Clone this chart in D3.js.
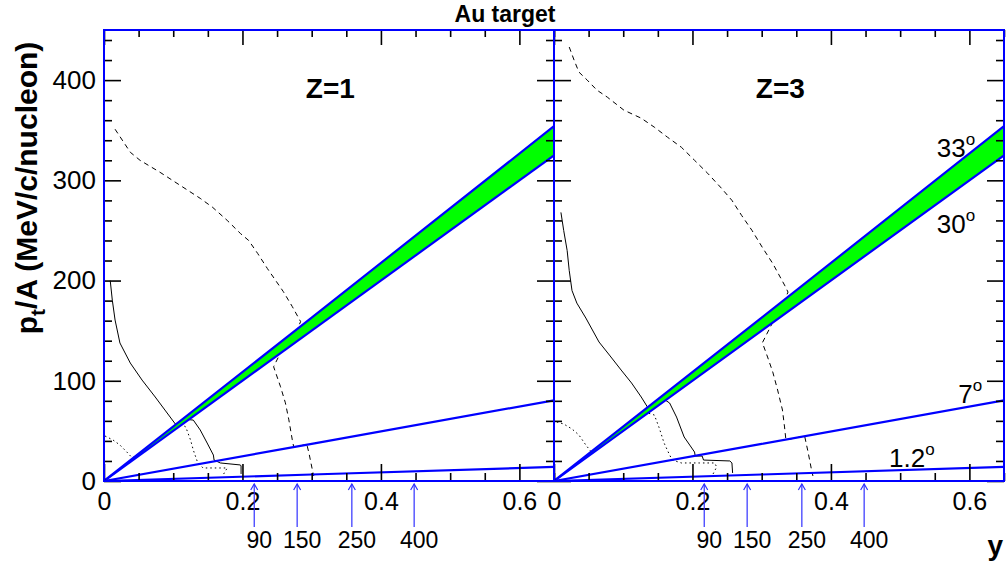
<!DOCTYPE html>
<html><head><meta charset="utf-8">
<script src="https://cdn.jsdelivr.net/npm/d3@7"></script>
<style>
body{margin:0;background:#fff;}
svg{display:block;}
text{font-family:"Liberation Sans",Arial,Helvetica,sans-serif;fill:#000;}
</style>
</head><body>
<svg id="chart" width="1008" height="563"></svg>
<script>
// ---------------- data ----------------
const panelLabels = ["Z=1", "Z=3"];
const xMajorTicks = [0, 0.2, 0.4, 0.6];
const xMinorTicks = [0.05, 0.1, 0.15, 0.25, 0.3, 0.35, 0.45, 0.5, 0.55, 0.65];
const yMajorTicks = [0, 100, 200, 300, 400];
const yMinorTicks = [20, 40, 60, 80, 120, 140, 160, 180, 220, 240, 260, 280, 320, 340, 360, 380, 420, 440];

// angle lines (rapidity y, pt/A)
const angleNames = ["33", "30", "7", "1.2"];
const line33 = [[0, 0], [0.3, 163], [0.65, 354]];
const line30 = [[0, 0], [0.3, 150], [0.65, 325]];
const line7  = [[0, 0], [0.3, 37], [0.65, 80.5]];
const line12 = [[0, 0], [0.3, 6.5], [0.65, 14]];

// beam energy arrows (MeV/nucleon) at rapidity
const arrowRapidity = [0.217, 0.279, 0.358, 0.448];
const arrowEnergy = ["90", "150", "250", "400"];

// Z=1 curves
const solidZ1 = [[0.009,200],[0.012,180.5],[0.016,160.6],[0.023,137.7],[0.038,117.7],[0.055,100.7],[0.074,83.8],[0.088,70.8],[0.103,56.9],[0.118,61.5],[0.129,60.8],[0.139,50.9],[0.149,37.9],[0.158,25.9],[0.159,20.9],[0.168,18],[0.197,16],[0.198,15],[0.198,7]];
const dottedZ1 = [[0.0015,44.9],[0.013,40.9],[0.023,35.9],[0.033,28.9],[0.041,22.9],[0.08,42],[0.11,57],[0.118,54],[0.125,40.9],[0.129,30.9],[0.135,19],[0.143,13],[0.178,13],[0.172,6]];
const dashedZ1 = [[0.016,351],[0.038,328],[0.052,320],[0.081,308],[0.110,295],[0.139,282],[0.157,273],[0.178,260],[0.197,247],[0.209,240],[0.222,227],[0.236,212],[0.248,200],[0.259,189],[0.272,174],[0.284,159],[0.275,145],[0.255,128],[0.245,114],[0.255,94],[0.262,78],[0.267,61],[0.272,41],[0.274,34],[0.293,36.4],[0.296,28],[0.301,11],[0.303,5]];

// Z=3 curves
const solidZ3 = [[0.010,268],[0.014,250],[0.019,230],[0.022,210],[0.026,190],[0.033,177.5],[0.046,162.6],[0.065,138.7],[0.080,125.7],[0.097,110.7],[0.112,97.8],[0.126,83.8],[0.135,73.8],[0.158,82],[0.167,77.8],[0.177,63.8],[0.188,43.9],[0.196,35.9],[0.203,28.9],[0.204,24.9],[0.214,24.9],[0.216,20.9],[0.254,20],[0.257,18],[0.258,8]];
const dottedZ3 = [[0.004,58.9],[0.014,56.9],[0.026,51.9],[0.036,45.9],[0.046,35.9],[0.054,28.9],[0.1,52],[0.135,68],[0.145,65.8],[0.152,52.9],[0.159,37.9],[0.167,25.9],[0.171,20.9],[0.184,18],[0.210,18],[0.232,18],[0.235,14],[0.229,6]];
const dashedZ3 = [[0.022,433],[0.029,420],[0.036,408],[0.048,400],[0.062,390],[0.077,383],[0.101,370],[0.126,362],[0.145,353],[0.164,343],[0.184,333],[0.203,320],[0.222,307],[0.242,292],[0.257,280],[0.271,265],[0.286,250],[0.301,233],[0.316,217],[0.333,195.5],[0.338,188.5],[0.33,175],[0.315,157],[0.301,138],[0.309,122.7],[0.316,108.7],[0.323,90.8],[0.330,70.8],[0.333,53.9],[0.335,40.9],[0.362,44.9],[0.367,28.9],[0.372,11],[0.374,5]];

const curvesByPanel = [
  {solid: solidZ1, dotted: dottedZ1, dashed: dashedZ1},
  {solid: solidZ3, dotted: dottedZ3, dashed: dashedZ3}
];

// ---------------- drawing ----------------
const svg = d3.select("#chart");
const BLUE = "#0000ff", GREEN = "#00ff00";
const plotTop = 30, plotBottom = 481;
const panelX = [[104, 554], [554, 1004]];
const yScale = d3.scaleLinear().domain([0, 450]).range([plotBottom, plotTop]);

svg.append("rect").attr("width", 1008).attr("height", 563).attr("fill", "#fff");
const defs = svg.append("defs");

panelX.forEach((px, i) => {
  const x = d3.scaleLinear().domain([0, 0.65]).range(px);
  const g = svg.append("g");
  const clipId = "clip" + i;
  defs.append("clipPath").attr("id", clipId)
    .append("rect").attr("x", px[0]).attr("y", plotTop).attr("width", px[1] - px[0]).attr("height", plotBottom - plotTop);
  const plot = g.append("g").attr("clip-path", `url(#${clipId})`);
  const line = d3.line().x(d => x(d[0])).y(d => yScale(d[1]));

  const c = curvesByPanel[i];
  plot.append("path").attr("d", line(c.solid)).attr("fill", "none").attr("stroke", "#000").attr("stroke-width", 1);
  plot.append("path").attr("d", line(c.dotted)).attr("fill", "none").attr("stroke", "#000").attr("stroke-width", 1).attr("stroke-dasharray", "1.5,3");
  plot.append("path").attr("d", line(c.dashed)).attr("fill", "none").attr("stroke", "#000").attr("stroke-width", 1).attr("stroke-dasharray", "5,4");

  // band between 30 and 33 deg
  const band = line33.concat(line30.slice().reverse());
  plot.append("path").attr("d", line(band) + "Z").attr("fill", GREEN).attr("stroke", "none");
  [line33, line30, line7, line12].forEach(L => {
    plot.append("path").attr("d", line(L)).attr("fill", "none").attr("stroke", BLUE).attr("stroke-width", 2.2);
  });

  // ticks
  const tickG = g.append("g");
  function ticks(axisGen, vals, size, tx, ty, labels) {
    const a = tickG.append("g").attr("transform", `translate(${tx},${ty})`)
      .call(axisGen.tickValues(vals).tickSize(size).tickPadding(labels ? 6 : 0)
        .tickFormat(labels ? (d => d === 0 ? "0" : d3.format("")(d)) : () => ""));
    a.select(".domain").remove();
    a.selectAll("line").attr("stroke", "#000").attr("stroke-width", 1.6);
    return a;
  }
  // bottom
  const bx = ticks(d3.axisBottom(x), xMajorTicks, -17, 0, plotBottom, true);
  bx.selectAll("text").attr("font-size", 25).attr("dy", "0.71em").attr("y", 11);
  ticks(d3.axisBottom(x), xMinorTicks, -8, 0, plotBottom, false);
  // top
  ticks(d3.axisTop(x), xMajorTicks, -15, 0, plotTop, false);
  ticks(d3.axisTop(x), xMinorTicks, -7, 0, plotTop, false);
  // left
  const ly = ticks(d3.axisLeft(yScale), yMajorTicks, -17, px[0], 0, i === 0);
  if (i === 0) ly.selectAll("text").attr("font-size", 26).attr("x", -8);
  ticks(d3.axisLeft(yScale), yMinorTicks, -8, px[0], 0, false);
  // right
  ticks(d3.axisRight(yScale), yMajorTicks, -17, px[1], 0, false);
  ticks(d3.axisRight(yScale), yMinorTicks, -8, px[1], 0, false);

  // frame
  g.append("rect").attr("x", px[0]).attr("y", plotTop).attr("width", px[1] - px[0]).attr("height", plotBottom - plotTop)
    .attr("fill", "none").attr("stroke", BLUE).attr("stroke-width", 2);

  // panel label
  g.append("text").attr("x", x(0.327)).attr("y", 98).attr("text-anchor", "middle")
    .attr("font-size", 28).attr("font-weight", "bold").text(panelLabels[i]);

  // arrows
  arrowRapidity.forEach((r, k) => {
    const ax = x(r);
    g.append("line").attr("x1", ax).attr("x2", ax).attr("y1", 527).attr("y2", 484)
      .attr("stroke", "#3030ff").attr("stroke-width", 1.2);
    g.append("path").attr("d", `M${ax - 3.5},${490}L${ax},${484}L${ax + 3.5},${490}`)
      .attr("fill", "none").attr("stroke", "#3030ff").attr("stroke-width", 1.2);
    g.append("text").attr("x", ax + 5).attr("y", 548).attr("text-anchor", "middle")
      .attr("font-size", 23).text(arrowEnergy[k]);
  });

  // angle labels (right panel only)
  if (i === 1) {
    const labPos = [[0.553, 323], [0.553, 247.5], [0.584, 77.8], [0.484, 14]];
    angleNames.forEach((n, k) => {
      const t = g.append("text").attr("x", x(labPos[k][0])).attr("y", yScale(labPos[k][1])).attr("font-size", 26);
      t.append("tspan").text(n);
      t.append("tspan").attr("dy", -12).attr("font-size", 17).text("o");
    });
  }
});

// title
svg.append("text").attr("x", 505).attr("y", 22).attr("text-anchor", "middle")
  .attr("font-size", 23).attr("font-weight", "bold").text("Au target");

// y axis title
const yt = svg.append("text").attr("transform", "translate(37,188) rotate(-90)")
  .attr("text-anchor", "middle").attr("font-size", 30).attr("font-weight", "bold");
yt.append("tspan").text("p");
yt.append("tspan").attr("dy", 8).attr("font-size", 21).text("t");
yt.append("tspan").attr("dy", -8).text("/A (MeV/c/nucleon)");

// x axis title
svg.append("text").attr("x", 1003).attr("y", 555).attr("text-anchor", "end")
  .attr("font-size", 28).attr("font-weight", "bold").text("y");
</script>
</body></html>
